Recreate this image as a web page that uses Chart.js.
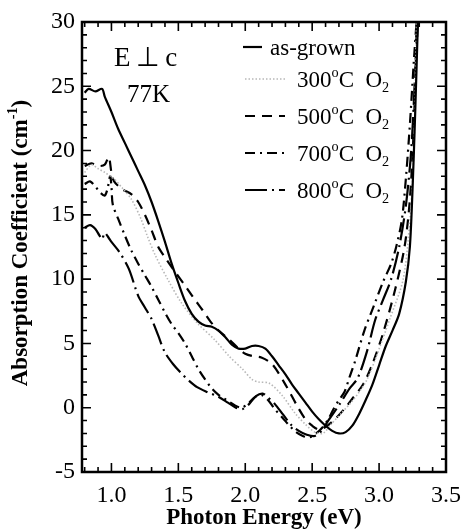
<!DOCTYPE html>
<html>
<head>
<meta charset="utf-8">
<script src="https://cdn.jsdelivr.net/npm/chart.js@4.4.1/dist/chart.umd.min.js"></script>
<style>
  html, body { margin: 0; padding: 0; background: #fff; }
  #wrap { width: 470px; height: 532px; }
</style>
</head>
<body>
<div id="wrap"><canvas id="chart" width="470" height="532"></canvas></div>
<script>
// photon energy (eV) and absorption coefficient (cm^-1)
const energyAsGrown = [0.80, 0.83, 0.88, 0.93, 0.95, 1.00, 1.05, 1.10, 1.15, 1.20, 1.25, 1.30, 1.35, 1.40, 1.45, 1.50, 1.55, 1.60, 1.65, 1.70, 1.75, 1.80, 1.85, 1.90, 1.95, 2.00, 2.05, 2.10, 2.15, 2.20, 2.25, 2.30, 2.35, 2.40, 2.45, 2.50, 2.55, 2.60, 2.65, 2.70, 2.75, 2.80, 2.85, 2.90, 2.95, 3.00, 3.05, 3.10, 3.15, 3.20, 3.23, 3.25, 3.27, 3.29];
const alphaAsGrown = [24.5, 24.8, 24.6, 24.8, 24.2, 23.0, 21.7, 20.6, 19.5, 18.4, 17.3, 16.0, 14.5, 12.9, 11.2, 9.7, 8.3, 7.3, 6.7, 6.4, 6.3, 6.0, 5.5, 4.9, 4.6, 4.6, 4.8, 4.8, 4.6, 4.0, 3.3, 2.6, 1.8, 1.1, 0.4, -0.3, -0.9, -1.4, -1.8, -2.0, -1.9, -1.4, -0.5, 0.6, 1.8, 3.3, 4.8, 6.0, 7.3, 9.8, 12.5, 17.0, 23.0, 30.0];

const energy300 = [0.80, 0.85, 0.90, 0.95, 1.02, 1.08, 1.15, 1.22, 1.27, 1.33, 1.42, 1.52, 1.64, 1.77, 1.88, 1.98, 2.05, 2.10, 2.18, 2.28, 2.37, 2.45, 2.52, 2.58, 2.64, 2.72, 2.79, 2.85, 2.91, 2.98, 3.08, 3.18, 3.23, 3.26, 3.28];
const alpha300 = [18.3, 18.9, 18.6, 18.3, 17.8, 17.1, 16.2, 14.7, 13.3, 11.8, 10.0, 8.2, 6.6, 5.3, 4.0, 3.0, 2.2, 2.0, 1.9, 0.9, -0.4, -1.3, -1.9, -2.0, -1.3, -0.4, 0.4, 1.2, 2.2, 4.0, 6.9, 10.0, 14.6, 20.0, 30.0];

const energy500 = [0.80, 0.85, 0.90, 0.95, 0.98, 1.00, 1.02, 1.08, 1.15, 1.20, 1.25, 1.30, 1.35, 1.40, 1.48, 1.55, 1.61, 1.68, 1.74, 1.80, 1.88, 1.95, 2.00, 2.06, 2.12, 2.20, 2.30, 2.39, 2.45, 2.50, 2.55, 2.60, 2.67, 2.74, 2.80, 2.88, 2.95, 3.03, 3.12, 3.19, 3.23, 3.26, 3.28];
const alpha500 = [18.8, 19.0, 18.8, 18.9, 19.5, 18.3, 17.6, 17.0, 16.6, 16.0, 15.0, 13.8, 12.5, 11.7, 10.5, 9.5, 8.6, 7.6, 6.7, 6.0, 5.3, 4.6, 4.2, 4.0, 3.9, 3.4, 1.8, 0.1, -0.9, -1.4, -1.7, -1.5, -0.9, -0.1, 0.7, 1.8, 3.4, 5.8, 9.2, 12.5, 16.2, 22.0, 30.0];

const energy700 = [0.80, 0.84, 0.88, 0.92, 0.95, 0.97, 0.99, 1.00, 1.01, 1.05, 1.10, 1.15, 1.20, 1.25, 1.30, 1.35, 1.40, 1.45, 1.50, 1.55, 1.60, 1.65, 1.70, 1.75, 1.80, 1.86, 1.92, 1.97, 2.02, 2.07, 2.12, 2.17, 2.22, 2.28, 2.33, 2.38, 2.43, 2.48, 2.53, 2.58, 2.62, 2.66, 2.70, 2.74, 2.78, 2.82, 2.89, 2.96, 3.03, 3.09, 3.13, 3.17, 3.20, 3.23, 3.26, 3.28];
const alpha700 = [17.4, 17.6, 17.2, 16.7, 16.5, 17.0, 18.0, 17.2, 15.8, 14.7, 13.4, 12.2, 11.2, 10.3, 9.4, 8.4, 7.4, 6.5, 5.8, 5.0, 4.0, 3.0, 2.2, 1.5, 1.0, 0.6, 0.2, 0.0, 0.3, 0.8, 1.0, 0.6, -0.1, -0.8, -1.4, -1.9, -2.2, -2.3, -2.0, -1.5, -0.9, -0.1, 0.6, 1.2, 2.4, 3.6, 6.0, 7.9, 9.8, 11.2, 12.6, 14.6, 17.8, 22.0, 27.0, 30.0];

const energy800 = [0.80, 0.84, 0.88, 0.91, 0.93, 0.95, 0.98, 1.00, 1.06, 1.13, 1.20, 1.25, 1.30, 1.35, 1.40, 1.46, 1.52, 1.58, 1.64, 1.72, 1.79, 1.87, 1.93, 1.98, 2.03, 2.08, 2.13, 2.17, 2.22, 2.28, 2.34, 2.40, 2.46, 2.52, 2.57, 2.62, 2.70, 2.78, 2.84, 2.91, 2.97, 3.03, 3.09, 3.15, 3.20, 3.24, 3.27, 3.29];
const alpha800 = [14.0, 14.2, 13.9, 13.4, 13.1, 13.6, 13.2, 12.9, 12.1, 10.8, 8.7, 7.8, 6.9, 5.6, 4.3, 3.4, 2.7, 2.1, 1.6, 1.2, 0.9, 0.4, 0.0, -0.1, 0.3, 0.9, 1.1, 0.8, 0.3, -0.5, -1.3, -1.8, -2.1, -2.2, -1.8, -1.0, 0.2, 1.5, 2.3, 4.4, 6.8, 8.4, 10.0, 12.5, 15.7, 20.0, 26.0, 30.0];

const seriesLabels = ['as-grown', '300', '500', '700', '800'];
const xTicks = [1.0, 1.5, 2.0, 2.5, 3.0, 3.5];
const yTicks = [-5, 0, 5, 10, 15, 20, 25, 30];

const SERIF = '"Liberation Serif", "Times New Roman", serif';

function pts(xs, ys) {
    return xs.map((x, i) => ({ x: x, y: ys[i] }));
}

const styles = [
    { borderColor: '#000', borderWidth: 2.2, borderDash: [] },
    { borderColor: '#b8b8b8', borderWidth: 1.6, borderDash: [1.5, 2] },
    { borderColor: '#000', borderWidth: 2.2, borderDash: [10, 7] },
    { borderColor: '#000', borderWidth: 2.2, borderDash: [10, 5, 2, 5] },
    { borderColor: '#000', borderWidth: 2.2, borderDash: [22, 5, 2, 5] }
];

const allData = [
    pts(energyAsGrown, alphaAsGrown),
    pts(energy300, alpha300),
    pts(energy500, alpha500),
    pts(energy700, alpha700),
    pts(energy800, alpha800)
];

// draws text with superscript / subscript pieces, returns width
function richText(ctx, parts, x, y, size, measureOnly) {
    let cx = x;
    parts.forEach(p => {
        let fs = size, dy = 0;
        if (p.sup) { fs = size * 0.62; dy = -size * 0.42; }
        if (p.sub) { fs = size * 0.62; dy = size * 0.22; }
        ctx.font = (p.bold ? 'bold ' : '') + fs + 'px ' + SERIF;
        if (!measureOnly) ctx.fillText(p.t, cx, y + dy);
        cx += ctx.measureText(p.t).width;
    });
    return cx - x;
}

const decorations = {
    id: 'decorations',
    afterDraw(chart) {
        const ctx = chart.ctx;
        const area = chart.chartArea;
        const xs = chart.scales.x, ys = chart.scales.y;
        ctx.save();
        ctx.strokeStyle = '#000';
        ctx.fillStyle = '#000';

        // inward ticks on all four sides
        ctx.lineWidth = 1.6;
        ctx.beginPath();
        for (let i = 8; i <= 35; i++) {
            const v = i / 10;
            const px = xs.getPixelForValue(v);
            const len = (i % 5 === 0) ? 9 : 5;
            ctx.moveTo(px, area.bottom); ctx.lineTo(px, area.bottom - len);
            ctx.moveTo(px, area.top); ctx.lineTo(px, area.top + len);
        }
        for (let v = -5; v <= 30; v++) {
            const py = ys.getPixelForValue(v);
            const len = (v % 5 === 0) ? 9 : 5;
            ctx.moveTo(area.left, py); ctx.lineTo(area.left + len, py);
            ctx.moveTo(area.right, py); ctx.lineTo(area.right - len, py);
        }
        ctx.stroke();

        // frame
        ctx.lineWidth = 2.5;
        ctx.strokeRect(area.left, area.top, area.right - area.left, area.bottom - area.top);

        // annotations
        ctx.textBaseline = 'alphabetic';
        ctx.font = '27px ' + SERIF;
        ctx.fillText('E\u2009\u22A5\u2009c', 114, 66);
        ctx.font = '25px ' + SERIF;
        ctx.fillText('77K', 127, 102);

        // legend
        const rows = [55, 87, 124, 161, 198];
        chart.data.datasets.forEach((ds, i) => {
            const ly = rows[i] - 8;
            ctx.save();
            ctx.strokeStyle = ds.borderColor;
            ctx.lineWidth = ds.borderWidth;
            ctx.setLineDash(ds.borderDash);
            ctx.beginPath();
            if (i === 0) { ctx.moveTo(243, ly); ctx.lineTo(262, ly); }
            else { ctx.moveTo(245, ly); ctx.lineTo(285, ly); }
            ctx.stroke();
            ctx.restore();
            if (i === 0) {
                ctx.font = '23px ' + SERIF;
                ctx.fillText(ds.label, 270, rows[i]);
            } else {
                richText(ctx, [
                    { t: ds.label }, { t: 'o', sup: true }, { t: 'C  O' }, { t: '2', sub: true }
                ], 297, rows[i], 23);
            }
        });

        // y axis title
        const yParts = [
            { t: 'Absorption Coefficient (cm', bold: true },
            { t: '-1', sup: true, bold: true },
            { t: ')', bold: true }
        ];
        const w = richText(ctx, yParts, 0, 0, 23, true);
        ctx.translate(27, 243);
        ctx.rotate(-Math.PI / 2);
        richText(ctx, yParts, -w / 2, 0, 23);
        ctx.restore();
    }
};

const ctx = document.getElementById('chart').getContext('2d');
new Chart(ctx, {
    type: 'line',
    data: {
        datasets: allData.map((d, i) => ({
            label: seriesLabels[i],
            data: d,
            borderColor: styles[i].borderColor,
            borderWidth: styles[i].borderWidth,
            borderDash: styles[i].borderDash,
            pointRadius: 0,
            fill: false,
            tension: 0.3
        }))
    },
    options: {
        responsive: false,
        animation: false,
        layout: { padding: { top: 22, right: 14, left: 0, bottom: 0 } },
        plugins: {
            legend: { display: false },
            tooltip: { enabled: false }
        },
        scales: {
            x: {
                type: 'linear',
                min: 0.78,
                max: 3.5,
                afterBuildTicks: (scale) => { scale.ticks = xTicks.map(v => ({ value: v })); },
                afterFit: (scale) => { scale.height = 60; },
                ticks: {
                    color: '#000',
                    font: { family: SERIF, size: 24 },
                    padding: 9,
                    maxRotation: 0,
                    callback: (v) => Number(v).toFixed(1)
                },
                grid: { display: false, drawTicks: false },
                border: { display: false },
                title: {
                    display: true,
                    text: 'Photon Energy (eV)',
                    color: '#000',
                    font: { family: SERIF, size: 23, weight: 'bold' },
                    padding: { top: 0, bottom: 0 }
                }
            },
            y: {
                type: 'linear',
                min: -5,
                max: 30,
                afterBuildTicks: (scale) => { scale.ticks = yTicks.map(v => ({ value: v })); },
                afterFit: (scale) => { scale.width = 82; },
                ticks: {
                    color: '#000',
                    font: { family: SERIF, size: 24 },
                    padding: 7
                },
                grid: { display: false, drawTicks: false },
                border: { display: false }
            }
        }
    },
    plugins: [decorations]
});
</script>
</body>
</html>
